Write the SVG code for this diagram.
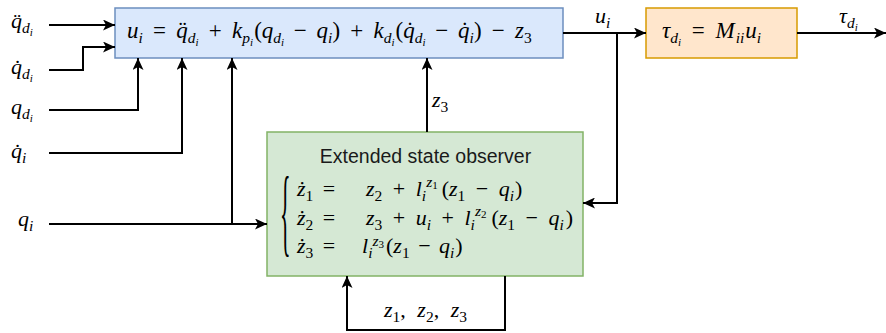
<svg xmlns="http://www.w3.org/2000/svg" width="886" height="333" viewBox="0 0 886 333">
<style>
.m{font-family:"Liberation Serif",serif;font-style:italic;font-size:22px;fill:#000}
.b{font-size:23px}
.r{font-style:normal}
.s{font-size:15.5px}
.ss{font-size:11px}
.ln{fill:none;stroke:#000;stroke-width:2}
.t{font-family:"Liberation Sans",Arial,sans-serif;font-size:19.5px;fill:#1a1a1a}
</style>
<defs>
<marker id="a" markerUnits="userSpaceOnUse" markerWidth="12" markerHeight="11" refX="12" refY="5.5" orient="auto" viewBox="0 0 12 11">
<path d="M0,0 L12,5.5 L0,11 L3,5.5 Z" fill="#000"/>
</marker>
</defs>
<g id="controller">
<rect x="115" y="8" width="448" height="50" fill="#dae8fc" stroke="#6c8ebf" stroke-width="1.5"/>
<text class="m b" x="127" y="37.5">u<tspan class="s" dy="5">i</tspan><tspan class="r" dx="4.5" dy="-5"> = </tspan><tspan dx="4.5">q&#x308;</tspan><tspan class="s" dy="5">d</tspan><tspan class="ss" dy="3">i</tspan><tspan class="r" dx="4.5" dy="-8"> + </tspan><tspan dx="4.5">k</tspan><tspan class="s" dy="5">p</tspan><tspan class="ss" dy="3">i</tspan><tspan class="r" dx="1" dy="-8">(</tspan>q<tspan class="s" dy="5">d</tspan><tspan class="ss" dy="3">i</tspan><tspan class="r" dx="4" dy="-8"> − </tspan><tspan dx="4">q</tspan><tspan class="s" dy="5">i</tspan><tspan class="r" dy="-5">)</tspan><tspan class="r" dx="4.5"> + </tspan><tspan dx="4.5">k</tspan><tspan class="s" dy="5">d</tspan><tspan class="ss" dy="3">i</tspan><tspan class="r" dx="1" dy="-8">(</tspan>q&#x307;<tspan class="s" dy="5">d</tspan><tspan class="ss" dy="3">i</tspan><tspan class="r" dx="4" dy="-8"> − </tspan><tspan dx="4">q&#x307;</tspan><tspan class="s" dy="5">i</tspan><tspan class="r" dy="-5">)</tspan><tspan class="r" dx="4.5"> − </tspan><tspan dx="4.5">z</tspan><tspan class="s r" dy="5">3</tspan></text>
</g>
<g id="torque">
<rect x="646" y="8" width="151" height="50" fill="#ffe6cc" stroke="#d79b00" stroke-width="1.5"/>
<text class="m b" x="662" y="38">τ<tspan class="s" dy="5">d</tspan><tspan class="ss" dy="3">i</tspan><tspan class="r" dx="5" dy="-8"> = </tspan><tspan dx="5">M</tspan><tspan class="s" dy="5" dx="1">ii</tspan><tspan dx="1" dy="-5">u</tspan><tspan class="s" dy="5">i</tspan></text>
</g>
<g id="eso">
<rect x="267" y="132" width="316" height="144" fill="#d5e8d4" stroke="#82b366" stroke-width="1.5"/>
<text class="t" x="425.5" y="163" text-anchor="middle">Extended state observer</text>
<text class="m r" transform="translate(280,244) scale(1,4.4)" style="font-size:22px">{</text>
<text class="m" x="297" y="196">z&#x307;<tspan class="s r" dy="5">1</tspan><tspan class="r" dx="4" dy="-5"> =</tspan></text>
<text class="m" x="297" y="225">z&#x307;<tspan class="s r" dy="5">2</tspan><tspan class="r" dx="4" dy="-5"> =</tspan></text>
<text class="m" x="297" y="253">z&#x307;<tspan class="s r" dy="5">3</tspan><tspan class="r" dx="4" dy="-5"> =</tspan></text>
<text class="m" x="366" y="196">z<tspan class="s r" dy="5">2</tspan><tspan class="r" dx="5" dy="-5"> + </tspan><tspan dx="5">l</tspan><tspan class="s" dy="5">i</tspan><tspan class="s" dy="-14">z</tspan><tspan class="ss r" dy="2">1</tspan><tspan class="r" dx="4" dy="7">(</tspan>z<tspan class="s r" dy="5">1</tspan><tspan class="r" dx="5" dy="-5"> − </tspan><tspan dx="5">q</tspan><tspan class="s" dy="5">i</tspan><tspan class="r" dx="1" dy="-5">)</tspan></text>
<text class="m" x="366" y="225">z<tspan class="s r" dy="5">3</tspan><tspan class="r" dx="5" dy="-5"> + </tspan><tspan dx="5">u</tspan><tspan class="s" dy="5">i</tspan><tspan class="r" dx="5" dy="-5"> + </tspan><tspan dx="5">l</tspan><tspan class="s" dy="5">i</tspan><tspan class="s" dy="-14">z</tspan><tspan class="ss r" dy="2">2</tspan><tspan class="r" dx="5" dy="7">(</tspan>z<tspan class="s r" dy="5">1</tspan><tspan class="r" dx="5" dy="-5"> − </tspan><tspan dx="5">q</tspan><tspan class="s" dy="5">i</tspan><tspan class="r" dx="2" dy="-5">)</tspan></text>
<text class="m" x="362" y="253">l<tspan class="s" dy="5">i</tspan><tspan class="s" dy="-12">z</tspan><tspan class="ss r" dy="2">3</tspan><tspan class="r" dx="2" dy="5">(</tspan>z<tspan class="s r" dy="5">1</tspan><tspan class="r" dx="3" dy="-5"> − </tspan><tspan dx="3">q</tspan><tspan class="s" dy="5">i</tspan><tspan class="r" dx="1" dy="-5">)</tspan></text>
</g>
<g id="inputs">
<text class="m" x="11" y="28">q&#x308;<tspan class="s" dy="5">d</tspan><tspan class="ss" dy="3">i</tspan></text>
<text class="m" x="11" y="74">q&#x307;<tspan class="s" dy="5">d</tspan><tspan class="ss" dy="3">i</tspan></text>
<text class="m" x="11" y="114">q<tspan class="s" dy="5">d</tspan><tspan class="ss" dy="3">i</tspan></text>
<text class="m" x="11" y="158">q&#x307;<tspan class="s" dy="5">i</tspan></text>
<text class="m" x="18" y="226">q<tspan class="s" dy="5">i</tspan></text>
</g>
<g id="connectors">
<path class="ln" d="M49,25 H115" marker-end="url(#a)"/>
<path class="ln" d="M49,70 H83 V47 H115" marker-end="url(#a)"/>
<path class="ln" d="M49,110 H138 V58" marker-end="url(#a)"/>
<path class="ln" d="M49,153 H182 V58" marker-end="url(#a)"/>
<path class="ln" d="M49,224 H267" marker-end="url(#a)"/>
<path class="ln" d="M232,224 V58" marker-end="url(#a)"/>
<path class="ln" d="M427,132 V58" marker-end="url(#a)"/>
<path class="ln" d="M563,33 H646" marker-end="url(#a)"/>
<path class="ln" d="M617,33 V203 H583" marker-end="url(#a)"/>
<path class="ln" d="M797,33 H886" marker-end="url(#a)"/>
<path class="ln" d="M505,276 V330 H347 V276" marker-end="url(#a)"/>
<text class="m" x="432" y="107">z<tspan class="s r" dy="5">3</tspan></text>
<text class="m" x="595" y="23">u<tspan class="s" dy="5">i</tspan></text>
<text class="m" x="839" y="23">τ<tspan class="s" dy="5">d</tspan><tspan class="ss" dy="3">i</tspan></text>
<text class="m" x="384" y="317">z<tspan class="s r" dy="5">1</tspan><tspan class="r" dy="-5">, </tspan><tspan dx="6">z</tspan><tspan class="s r" dy="5">2</tspan><tspan class="r" dy="-5">, </tspan><tspan dx="6">z</tspan><tspan class="s r" dy="5">3</tspan></text>
</g>
</svg>
